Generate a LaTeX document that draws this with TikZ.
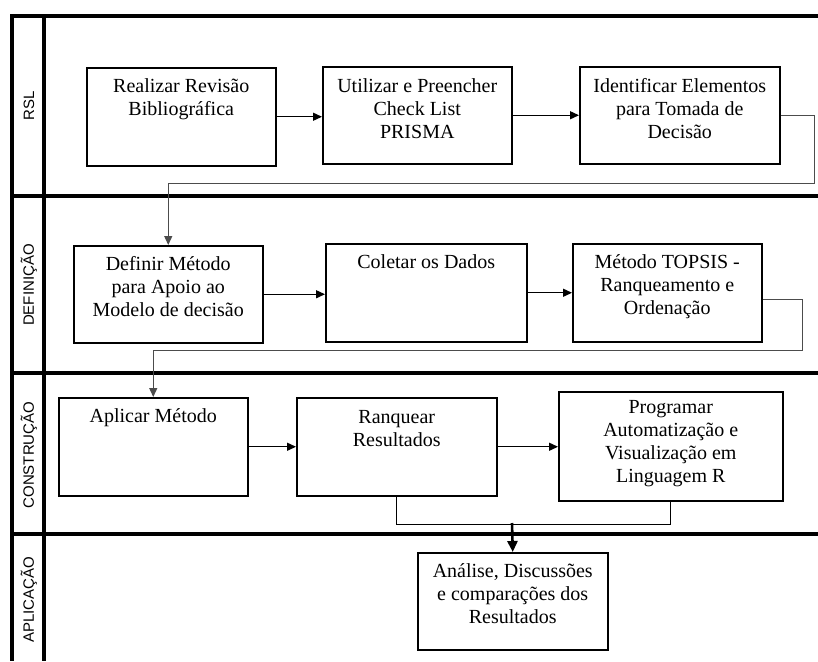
\documentclass[tikz,border=0pt]{standalone}
\usepackage{fontspec}
\setmainfont{Liberation Serif}
\setsansfont{Liberation Sans}
\usetikzlibrary{arrows.meta, calc}

\begin{document}
\begin{tikzpicture}[x=1pt, y=-1pt,
	lane/.style={line width=3.2pt},
	lanelabel/.style={rotate=90, font=\sffamily\fontsize{15}{17}\selectfont},
	stepbox/.style n args={3}{draw, line width=1.5pt, inner sep=0pt, anchor=north west,
		font=\fontsize{20}{23}\selectfont,
		execute at begin node={\begin{minipage}[t][#2pt][t]{#1pt}\centering\rule{0pt}{#3pt}},
		execute at end node={\end{minipage}}},
	flow/.style={-{Triangle[length=9pt, width=8pt]}, line width=1.4pt},
	wrap/.style={flow, draw=gray!60!black}]
		
		\useasboundingbox (0,0) rectangle (818,661);
		
		% Lanes
		\draw[lane] (10,16) -- (818,16);
		\draw[lane] (12,16) -- (12,661);
		\draw[lane] (44,16) -- (44,661);
		\foreach \y in {196,373,534}
		\draw[lane] (12,\y) -- (818,\y);
		
		\node[lanelabel] (rsl) at (29,106) {RSL};
		\node[lanelabel] (def) at (29,285) {DEFINIÇÃO};
		\node[lanelabel] (cons) at (29,455) {CONSTRUÇÃO};
		\node[lanelabel] (apl) at (29,600) {APLICAÇÃO};
		
		% RSL
		\node[stepbox={189}{98}{25}] (b1) at (86,67) {Realizar Revisão\\Bibliográfica};
		\node[stepbox={189}{97}{26}] (b2) at (322,66) {Utilizar e Preencher\\Check List\\PRISMA};
		\node[stepbox={200}{97}{26}] (b3) at (579,66) {Identificar Elementos\\para Tomada de\\Decisão};
		
		% Definicao
		\node[stepbox={189}{97}{25}] (b4) at (73,245) {Definir Método\\para Apoio ao\\Modelo de decisão};
		\node[stepbox={201}{98}{25}] (b5) at (325,243) {Coletar os Dados};
		\node[stepbox={189}{98}{25}] (b6) at (572,243) {Método TOPSIS -\\Ranqueamento e\\Ordenação};
		
		% Construcao
		\node[stepbox={189}{98}{25}] (b7) at (58,397) {Aplicar Método};
		\node[stepbox={200}{98}{26}] (b8) at (296,397) {Ranquear\\Resultados};
		\node[stepbox={224}{109}{22}] (b9) at (558,391) {Programar\\Automatização e\\Visualização em\\Linguagem R};
		
		% Aplicacao
		\node[stepbox={190}{97}{25}] (b10) at (417,552) {Análise, Discussões\\e comparações dos\\Resultados};
		
		% Connectors
		\draw[flow] (b1.east) -- (b1.east -| b2.west);
		\draw[flow] (b2.east) -- (b2.east -| b3.west);
		\draw[wrap] (b3.east) -| ++(34,68) -| (b4.north);
		
		\draw[flow] (b4.east) -- (b4.east -| b5.west);
		\draw[flow] (b5.east) -- (b5.east -| b6.west);
		\draw[wrap] ([yshift=-7pt]b6.east) -| ++(40,51) -| (b7.north);
		
		\draw[flow] (b7.east) -- (b7.east -| b8.west);
		\draw[flow] (b8.east) -- (b8.east -| b9.west);
		\draw[line width=1.4pt] (b8.south) -- ++(0,28) -| (b9.south);
		
		\coordinate (join) at (512,523);
		\draw[-{Triangle[length=11pt, width=10pt]}, line width=2.6pt] (join) -- (b10.north);
		
	\end{tikzpicture}
\end{document}
